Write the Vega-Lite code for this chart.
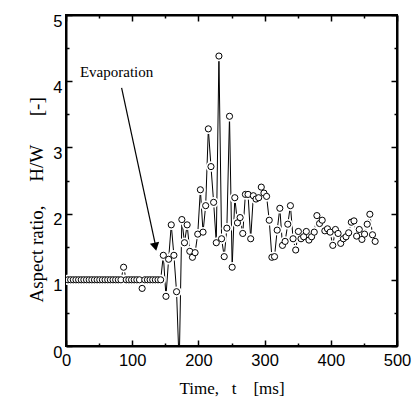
{
  "$schema": "https://vega.github.io/schema/vega-lite/v6.json",
  "width": 331,
  "height": 331,
  "autosize": "none",
  "padding": {"left": 66, "top": 15, "right": 22, "bottom": 55},
  "background": "white",
  "config": {
    "view": {"stroke": "black", "strokeWidth": 2},
    "axis": {
      "grid": false,
      "domainColor": "black",
      "domainWidth": 2,
      "tickColor": "black",
      "tickWidth": 1.5,
      "labelColor": "black",
      "labelFont": "Liberation Sans",
      "labelFontSize": 16.5,
      "titleColor": "black",
      "titleFont": "Liberation Serif",
      "titleFontWeight": "normal"
    }
  },
  "datasets": {
    "series": [
      {"t": 3, "r": 1}, {"t": 7, "r": 1}, {"t": 11, "r": 1}, {"t": 15, "r": 1}, {"t": 19, "r": 1},
      {"t": 23, "r": 1}, {"t": 27, "r": 1}, {"t": 31, "r": 1}, {"t": 35, "r": 1}, {"t": 39, "r": 1},
      {"t": 43, "r": 1}, {"t": 47, "r": 1}, {"t": 51, "r": 1}, {"t": 55, "r": 1}, {"t": 59, "r": 1},
      {"t": 63, "r": 1}, {"t": 67, "r": 1}, {"t": 71, "r": 1}, {"t": 75, "r": 1}, {"t": 79, "r": 1},
      {"t": 83, "r": 1}, {"t": 87, "r": 1.19}, {"t": 91, "r": 1}, {"t": 95, "r": 1}, {"t": 99, "r": 1},
      {"t": 103, "r": 1}, {"t": 107, "r": 1}, {"t": 111, "r": 1}, {"t": 115, "r": 0.87}, {"t": 119, "r": 1},
      {"t": 123, "r": 1}, {"t": 127, "r": 1}, {"t": 131, "r": 1}, {"t": 135, "r": 1}, {"t": 139, "r": 1},
      {"t": 143, "r": 1},
      {"t": 147, "r": 1.37}, {"t": 151, "r": 0.75}, {"t": 155, "r": 1.31}, {"t": 159, "r": 1.83},
      {"t": 163, "r": 1.37}, {"t": 167, "r": 0.82}, {"t": 171, "r": -0.3}, {"t": 175, "r": 1.91},
      {"t": 179, "r": 1.56}, {"t": 183, "r": 1.83}, {"t": 187, "r": 1.43}, {"t": 191, "r": 1.34},
      {"t": 195, "r": 1.41}, {"t": 199, "r": 1.69}, {"t": 203, "r": 2.36}, {"t": 207, "r": 1.72},
      {"t": 211, "r": 2.12}, {"t": 215, "r": 3.28}, {"t": 219, "r": 2.71}, {"t": 223, "r": 2.17},
      {"t": 227, "r": 1.56}, {"t": 231, "r": 4.38}, {"t": 235, "r": 1.62}, {"t": 239, "r": 1.35},
      {"t": 243, "r": 1.78}, {"t": 247, "r": 3.47}, {"t": 251, "r": 1.19}, {"t": 255, "r": 2.24},
      {"t": 259, "r": 1.86}, {"t": 263, "r": 1.94}, {"t": 267, "r": 1.70}, {"t": 271, "r": 2.29},
      {"t": 275, "r": 2.29}, {"t": 279, "r": 1.62}, {"t": 283, "r": 2.27}, {"t": 287, "r": 2.22},
      {"t": 291, "r": 2.24}, {"t": 295, "r": 2.40}, {"t": 299, "r": 2.31}, {"t": 303, "r": 2.26},
      {"t": 307, "r": 1.90}, {"t": 311, "r": 1.34}, {"t": 315, "r": 1.35}, {"t": 319, "r": 1.75},
      {"t": 323, "r": 2.08}, {"t": 327, "r": 1.52}, {"t": 331, "r": 1.58}, {"t": 335, "r": 1.84},
      {"t": 339, "r": 2.12}, {"t": 343, "r": 1.62}, {"t": 347, "r": 1.45}, {"t": 351, "r": 1.73},
      {"t": 355, "r": 1.62}, {"t": 359, "r": 1.65}, {"t": 363, "r": 1.73}, {"t": 367, "r": 1.60},
      {"t": 371, "r": 1.65}, {"t": 375, "r": 1.72}, {"t": 379, "r": 1.97}, {"t": 383, "r": 1.85},
      {"t": 387, "r": 1.90}, {"t": 391, "r": 1.74}, {"t": 395, "r": 1.77}, {"t": 399, "r": 1.72},
      {"t": 403, "r": 1.52}, {"t": 407, "r": 1.76}, {"t": 411, "r": 1.70}, {"t": 415, "r": 1.55},
      {"t": 419, "r": 1.62}, {"t": 423, "r": 1.65}, {"t": 427, "r": 1.71}, {"t": 431, "r": 1.87},
      {"t": 435, "r": 1.89}, {"t": 439, "r": 1.66}, {"t": 443, "r": 1.76}, {"t": 447, "r": 1.61},
      {"t": 451, "r": 1.69}, {"t": 455, "r": 1.84}, {"t": 459, "r": 1.99}, {"t": 463, "r": 1.68},
      {"t": 467, "r": 1.58}
    ],
    "arrow": [{"t": 84, "r": 3.9, "t2": 135, "r2": 1.53}],
    "head": [{"t": 135, "r": 1.5}],
    "label": [{"t": 21, "r": 4.06, "text": "Evaporation"}]
  },
  "resolve": {"axis": {"x": "independent", "y": "independent"}},
  "layer": [
    {
      "data": {"name": "series"},
      "mark": {"type": "line", "color": "black", "strokeWidth": 1, "clip": true},
      "encoding": {
        "x": {
          "field": "t", "type": "quantitative",
          "scale": {"domain": [0, 500], "nice": false},
          "axis": {
            "orient": "bottom",
            "values": [0, 50, 100, 150, 200, 250, 300, 350, 400, 450, 500],
            "tickSize": {"condition": {"test": "datum.value % 100 === 0", "value": -6}, "value": -3},
            "labelExpr": "datum.value % 100 === 0 ? format(datum.value, 'd') : ''",
            "labelPadding": 12,
            "labelFlush": false,
            "title": "Time,\u00a0\u00a0 t\u00a0\u00a0\u00a0\u00a0[ms]",
            "titleFontSize": 17,
            "titleBaseline": "alphabetic",
            "titleY": 47
          }
        },
        "y": {
          "field": "r", "type": "quantitative",
          "scale": {"domain": [0, 5], "nice": false},
          "axis": {
            "orient": "left",
            "values": [0, 0.5, 1, 1.5, 2, 2.5, 3, 3.5, 4, 4.5, 5],
            "tickSize": {"condition": {"test": "datum.value % 1 === 0", "value": -6}, "value": -3},
            "labelExpr": "datum.value % 1 === 0 ? format(datum.value, 'd') : ''",
            "labelPadding": 10,
            "labelOffset": 6,
            "labelFlush": false,
            "title": "Aspect ratio,\u00a0\u00a0\u00a0\u00a0 H/W\u00a0\u00a0\u00a0\u00a0\u00a0 [-]",
            "titleFontSize": 19,
            "titleBaseline": "alphabetic",
            "titleAngle": -90,
            "titleAlign": "left",
            "titleX": -24,
            "titleY": 287
          }
        }
      }
    },
    {
      "data": {"name": "series"},
      "mark": {"type": "point", "shape": "circle", "filled": true, "color": "white", "opacity": 1, "size": 110, "clip": true},
      "encoding": {
        "x": {
          "field": "t", "type": "quantitative",
          "scale": {"domain": [0, 500], "nice": false},
          "axis": {
            "orient": "top",
            "values": [0, 50, 100, 150, 200, 250, 300, 350, 400, 450, 500],
            "tickSize": {"condition": {"test": "datum.value % 100 === 0", "value": -6}, "value": -3},
            "labels": false,
            "title": null
          }
        },
        "y": {
          "field": "r", "type": "quantitative",
          "scale": {"domain": [0, 5], "nice": false},
          "axis": {
            "orient": "right",
            "values": [0, 0.5, 1, 1.5, 2, 2.5, 3, 3.5, 4, 4.5, 5],
            "tickSize": {"condition": {"test": "datum.value % 1 === 0", "value": -6}, "value": -3},
            "labels": false,
            "title": null
          }
        }
      }
    },
    {
      "data": {"name": "series"},
      "mark": {"type": "point", "shape": "circle", "fill": "white", "stroke": "black", "strokeWidth": 1, "opacity": 1, "size": 38, "clip": true},
      "encoding": {
        "x": {"field": "t", "type": "quantitative", "scale": {"domain": [0, 500], "nice": false}, "axis": null},
        "y": {"field": "r", "type": "quantitative", "scale": {"domain": [0, 5], "nice": false}, "axis": null}
      }
    },
    {
      "data": {"name": "arrow"},
      "mark": {"type": "rule", "color": "black", "strokeWidth": 1.2},
      "encoding": {
        "x": {"field": "t", "type": "quantitative", "scale": {"domain": [0, 500], "nice": false}, "axis": null},
        "y": {"field": "r", "type": "quantitative", "scale": {"domain": [0, 5], "nice": false}, "axis": null},
        "x2": {"field": "t2"},
        "y2": {"field": "r2"}
      }
    },
    {
      "data": {"name": "head"},
      "mark": {"type": "point", "shape": "triangle-down", "filled": true, "color": "black", "opacity": 1, "size": 90, "angle": 348},
      "encoding": {
        "x": {"field": "t", "type": "quantitative", "scale": {"domain": [0, 500], "nice": false}, "axis": null},
        "y": {"field": "r", "type": "quantitative", "scale": {"domain": [0, 5], "nice": false}, "axis": null}
      }
    },
    {
      "data": {"name": "label"},
      "mark": {"type": "text", "font": "Liberation Serif", "fontSize": 15, "align": "left", "baseline": "alphabetic", "color": "black"},
      "encoding": {
        "x": {"field": "t", "type": "quantitative", "scale": {"domain": [0, 500], "nice": false}, "axis": null},
        "y": {"field": "r", "type": "quantitative", "scale": {"domain": [0, 5], "nice": false}, "axis": null},
        "text": {"field": "text"}
      }
    }
  ]
}
